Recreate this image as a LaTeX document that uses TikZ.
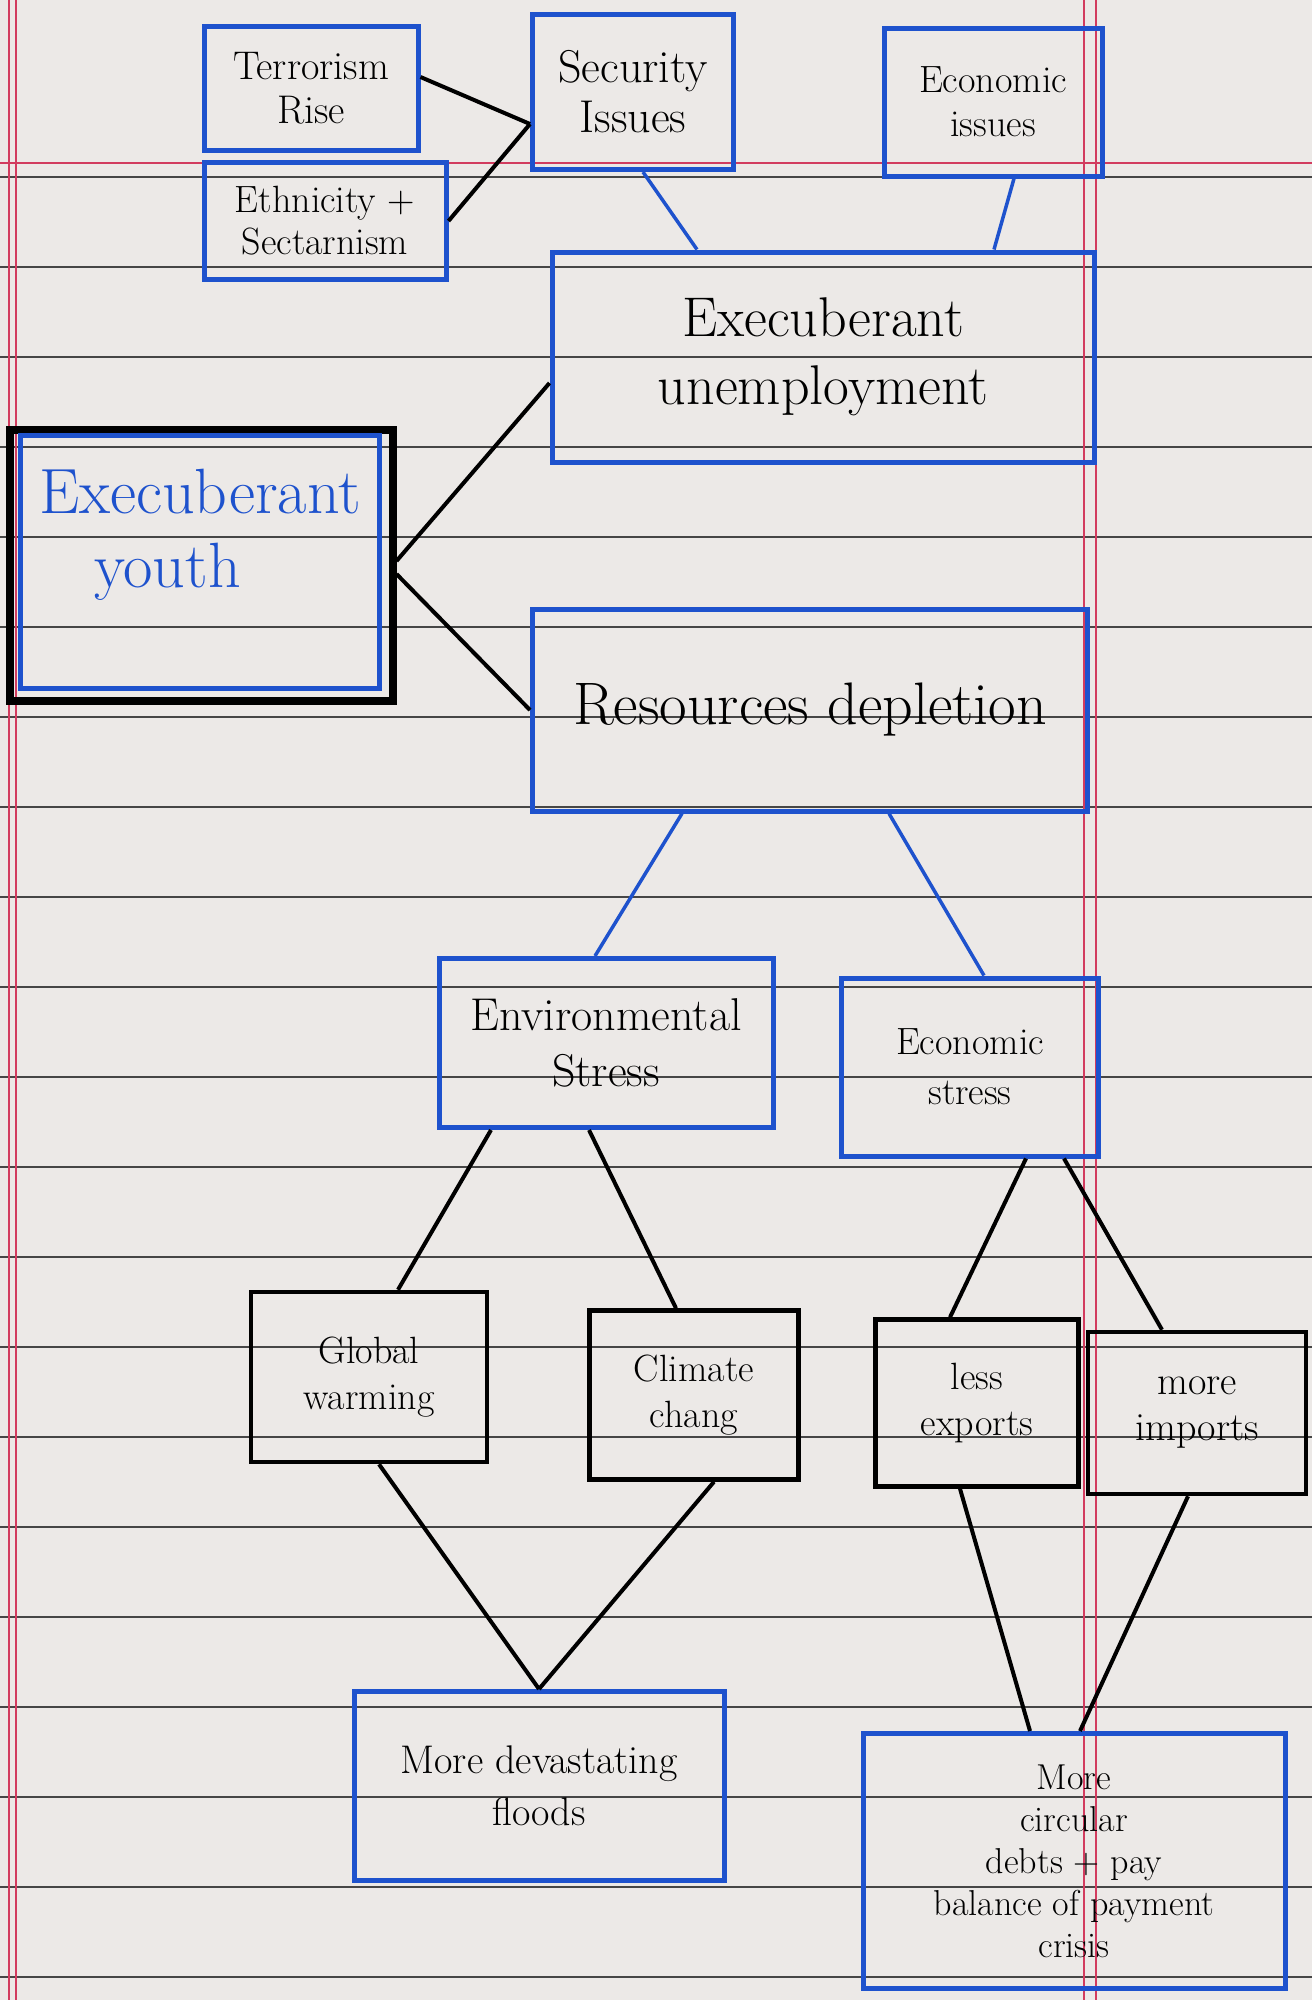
\documentclass[tikz,border=0pt]{standalone}
\usepackage{fontspec}
\usetikzlibrary{calc}
\definecolor{inkblue}{RGB}{30,82,205}
\definecolor{paper}{RGB}{236,233,231}
\definecolor{ruleline}{RGB}{70,70,70}
\definecolor{marginred}{RGB}{210,60,95}
\newcommand\myfs[2]{\fontsize{#1}{#2}\selectfont}
\begin{document}
\begin{tikzpicture}[x=1pt,y=-1pt,
  boxbase/.style={rectangle, inner sep=0pt, align=center, text=black},
  bluebox/.style={boxbase, draw=inkblue, line width=5pt},
  blackbox/.style={boxbase, draw=black, line width=4.5pt},
  link/.style={draw=black, line width=4pt},
  bluelink/.style={draw=inkblue, line width=3.5pt},
  rulestyle/.style={draw=ruleline, line width=1.6pt},
  marginstyle/.style={draw=marginred, line width=1.4pt}]
\useasboundingbox (0,0) rectangle (1312,2000);
\fill[paper] (0,0) rectangle (1312,2000);
\foreach \yy in {177,267,...,1977} \draw[rulestyle] (0,\yy) -- (1312,\yy);
\draw[marginstyle] (0,163) -- (1312,163);
\draw[marginstyle] (9,0) -- (9,2000);
\draw[marginstyle] (16,0) -- (16,2000);
\draw[marginstyle] (1084,0) -- (1084,2000);
\draw[marginstyle] (1096,0) -- (1096,2000);

% nodes
\node[bluebox, font=\myfs{40}{44}, minimum width=214pt, minimum height=124pt] (terr) at (311,88) {Terrorism\\Rise};
\node[bluebox, font=\myfs{38}{42}, minimum width=242pt, minimum height=117pt] (eth) at (325,221) {Ethnicity +\\Sectarnism};
\node[bluebox, font=\myfs{46}{50}, minimum width=201pt, minimum height=155pt] (sec) at (633,92) {Security\\Issues};
\node[bluebox, font=\myfs{38}{44}, minimum width=218pt, minimum height=148pt] (eco) at (993,102) {Economic\\issues};
\node[bluebox, font=\myfs{56}{68}, minimum width=542pt, minimum height=210pt] (unemp) at (823,357) {Execuberant\\unemployment};
\node[boxbase, draw=black, line width=8pt, minimum width=383pt, minimum height=271pt] (youth) at (201,565) {};
\draw[inkblue, line width=4.5pt] ([shift={(15pt,-10pt)}]youth.north west) rectangle ([shift={(-17pt,16pt)}]youth.south east);
\node[boxbase, text=inkblue, align=left, font=\myfs{64}{74}] (youthlbl) at (200,535) {Execuberant\\\hspace*{55pt}youth};
\node[bluebox, font=\myfs{60}{70}, minimum width=555pt, minimum height=202pt] (res) at (810,710) {Resources depletion};
\node[bluebox, font=\myfs{46}{56}, minimum width=334pt, minimum height=169pt] (env) at (606,1043) {Environmental\\Stress};
\node[bluebox, font=\myfs{38}{50}, minimum width=257pt, minimum height=178pt] (ecs) at (970,1067) {Economic\\stress};
\node[blackbox, font=\myfs{38}{46}, minimum width=236pt, minimum height=170pt] (glob) at (369,1377) {Global\\warming};
\node[blackbox, font=\myfs{38}{46}, minimum width=209pt, minimum height=169pt] (clim) at (694,1395) {Climate\\chang};
\node[blackbox, font=\myfs{38}{46}, minimum width=203pt, minimum height=167pt] (lexp) at (977,1403) {less\\exports};
\node[blackbox, font=\myfs{40}{46}, minimum width=218pt, minimum height=162pt] (mimp) at (1197,1413) {more\\imports};
\node[bluebox, font=\myfs{40}{52}, minimum width=370pt, minimum height=189pt] (flood) at (539,1786) {More devastating\\floods};
\node[bluebox, font=\myfs{36}{42}, minimum width=422pt, minimum height=255pt] (debt) at (1074,1861) {More\\circular\\debts + pay\\balance of payment\\crisis};

\coordinate (secin) at ([yshift=-32pt]sec.west);

% connectors
\draw[link] ([yshift=11pt]terr.east) -- (secin);
\draw[link] (eth.east) -- (secin);
\draw[bluelink] ([xshift=10pt]sec.south) -- ([xshift=-126pt]unemp.north);
\draw[bluelink] ([xshift=21pt]eco.south) -- ([xshift=171pt]unemp.north);
\draw[link] ([yshift=4pt]youth.east) -- ([yshift=-26pt]unemp.west);
\draw[link] ([yshift=-9pt]youth.east) -- (res.west);
\draw[bluelink] ([xshift=-128pt]res.south) -- ([xshift=-11pt]env.north);
\draw[bluelink] ([xshift=79pt]res.south) -- ([xshift=14pt]ecs.north);
\draw[link] ([xshift=-115pt]env.south) -- ([xshift=29pt]glob.north);
\draw[link] ([xshift=-17pt]env.south) -- ([xshift=-18pt]clim.north);
\draw[link] ([xshift=56pt]ecs.south) -- ([xshift=-27pt]lexp.north);
\draw[link] ([xshift=94pt]ecs.south) -- ([xshift=-35pt]mimp.north);
\draw[link] ([xshift=10pt]glob.south) -- (flood.north);
\draw[link] ([xshift=20pt]clim.south) -- (flood.north);
\draw[link] ([xshift=-17pt]lexp.south) -- ([xshift=-44pt]debt.north);
\draw[link] ([xshift=-9pt]mimp.south) -- ([xshift=6pt]debt.north);
\end{tikzpicture}
\end{document}
